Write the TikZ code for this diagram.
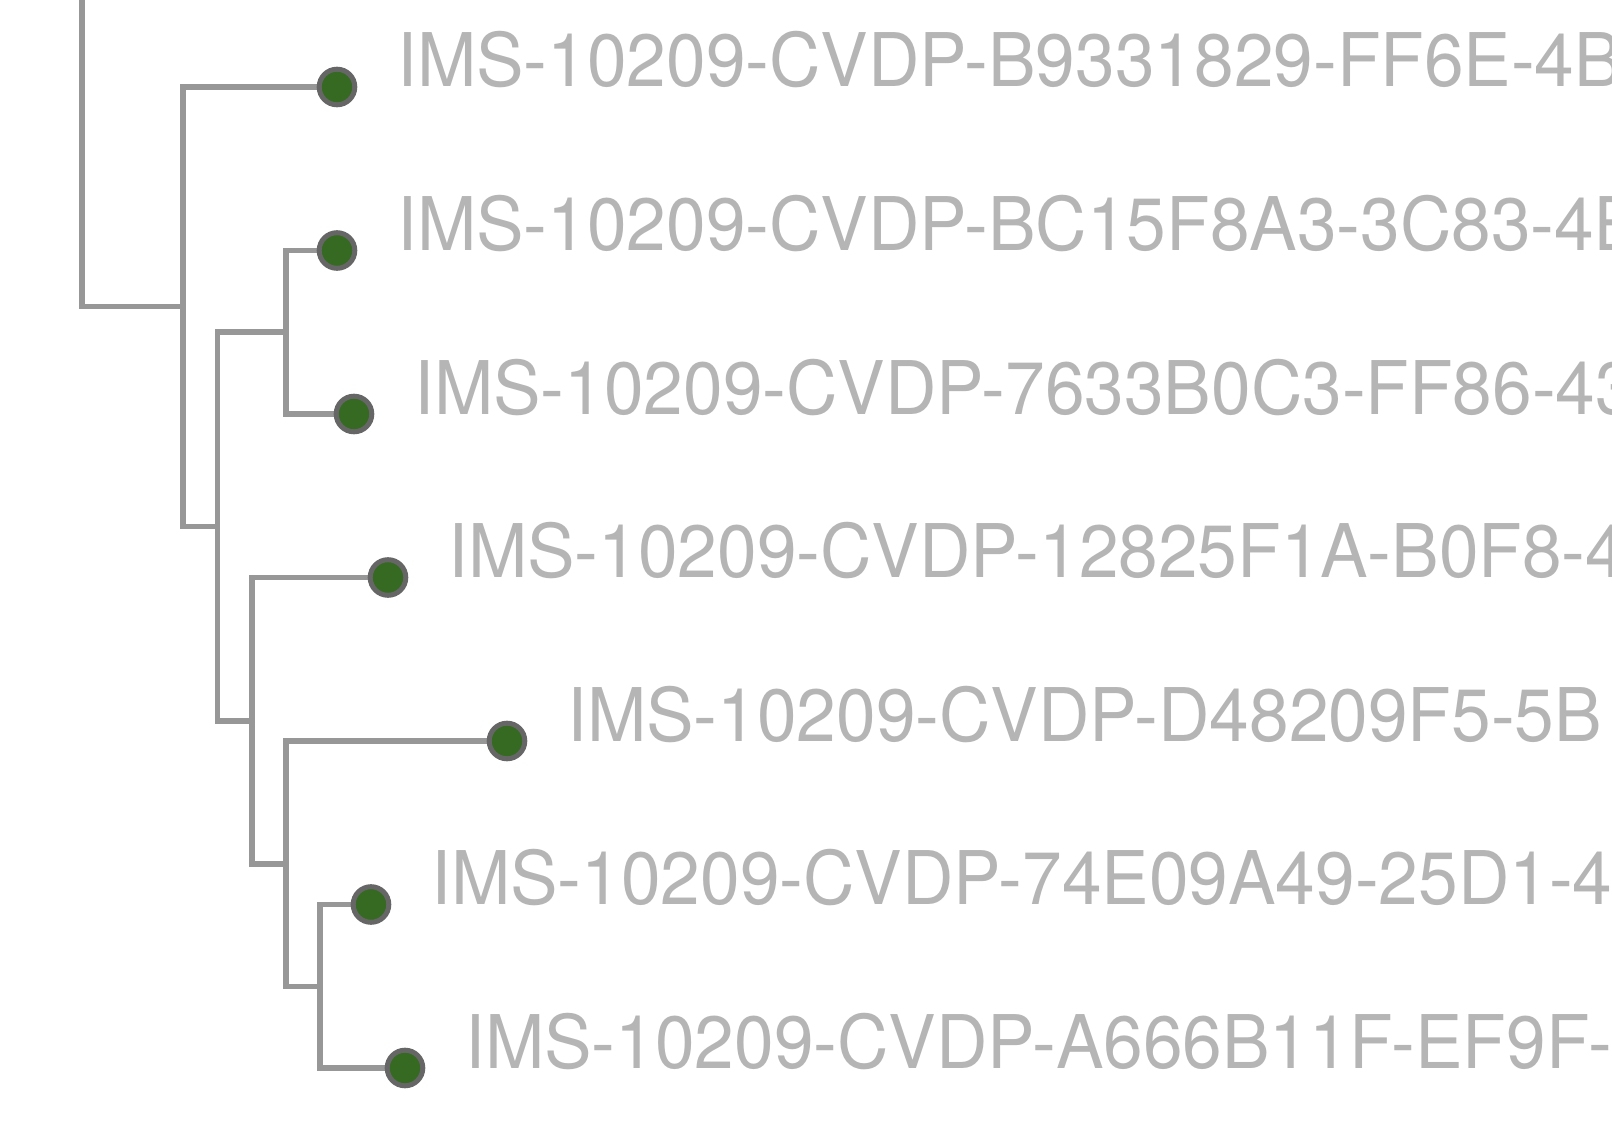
\documentclass[tikz,border=0pt]{standalone}
\usepackage{fontspec}
\setmainfont{TeX Gyre Heros}[FakeStretch=0.963]
\usetikzlibrary{positioning}
\pgfdeclarelayer{bg}
\pgfsetlayers{bg,main}
\definecolor{branchgray}{HTML}{979797}
\definecolor{tipedge}{HTML}{666666}
\definecolor{tipfill}{HTML}{366A23}
\definecolor{labelgray}{HTML}{B5B5B5}
\tikzset{
	tip/.style={
		draw=tipedge,
		fill=tipfill,
		circle,
		line width=2.5pt,
		inner sep=0pt,
		outer sep=0pt,
		minimum size=17.8pt
	},
	branch/.style={
		draw=branchgray,
		line width=2.8pt
	},
	tiplabel/.style={
		text=labelgray,
		inner sep=0pt,
		font=\fontsize{37}{44}\selectfont
	}
}

\begin{document}
\begin{tikzpicture}[x=0.5pt, y=-0.5pt]
	\useasboundingbox (0,0) rectangle (1612,1134);
	\clip (0,0) rectangle (1612,1134);

	% clade joints
	\coordinate (root) at (82,-10);
	\coordinate (ca) at (183,306.7);
	\coordinate (cb) at (217.5,526.5);
	\coordinate (cc) at (286,332.3);
	\coordinate (cd) at (252,721);
	\coordinate (ce) at (286,863.8);
	\coordinate (cf) at (320,986.3);

	% tips
	\foreach \i/\x in {1/337, 2/337, 3/354, 4/388, 5/507, 6/371, 7/405} {
		\node[tip] (s\i) at (\x, {87+163.5*(\i-1)}) {};
	}

	% branches
	\begin{pgfonlayer}{bg}
	\begin{scope}[branch]
	\draw (root) |- (ca);
	\draw (ca) |- (s1);
	\draw (ca) |- (cb);
	\draw (cb) |- (cc);
	\draw (cb) |- (cd);
	\draw (cc) |- (s2);
	\draw (cc) |- (s3);
	\draw (cd) |- (s4);
	\draw (cd) |- (ce);
	\draw (ce) |- (s5);
	\draw (ce) |- (cf);
	\draw (cf) |- (s6);
	\draw (cf) |- (s7);
	\end{scope}
	\end{pgfonlayer}

	% tip labels
	\foreach \i/\txt in {
		1/IMS-10209-CVDP-B9331829-FF6E-4B,
		2/IMS-10209-CVDP-BC15F8A3-3C83-4B,
		3/IMS-10209-CVDP-7633B0C3-FF86-43,
		4/IMS-10209-CVDP-12825F1A-B0F8-4,
		5/IMS-10209-CVDP-D48209F5-5B,
		6/IMS-10209-CVDP-74E09A49-25D1-4,
		7/IMS-10209-CVDP-A666B11F-EF9F-} {
		\node[tiplabel, base right=21pt of s\i] (s\i dsc) {\txt};
	}
\end{tikzpicture}
\end{document}
